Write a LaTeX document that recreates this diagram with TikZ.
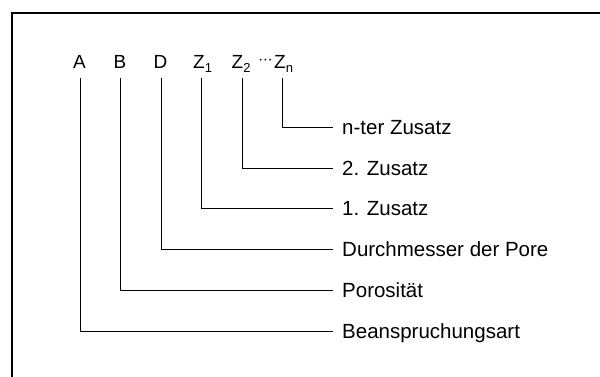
\documentclass[tikz,border=0pt]{standalone}
\usepackage{fontspec}
\setmainfont{Liberation Sans}
\begin{document}
\begin{tikzpicture}[x=1pt,y=-1pt,
  letter/.style={anchor=base,inner sep=0pt,font=\fontsize{19}{22}\selectfont},
  lbl/.style={anchor=west,inner xsep=9pt,inner ysep=0pt,text height=14.5pt,text depth=0pt,font=\fontsize{20.5}{24}\selectfont},
  conn/.style={line width=1pt},
  frame/.style={line width=1.5pt}]
\useasboundingbox (0,0) rectangle (600,376);
\draw[frame] (12,385) -- (12,13) -- (610,13);
% letters
\node[letter] (A) at (79.5,68) {A};
\node[letter] (B) at (120,68) {B};
\node[letter] (D) at (160.5,68) {D};
\node[letter] (Z1) at (199,68) {Z\rlap{\raisebox{-4.5pt}{\fontsize{13}{13}\selectfont 1}}};
\node[letter] (Z2) at (237.5,68) {Z\rlap{\raisebox{-4.5pt}{\fontsize{13}{13}\selectfont 2}}};
\node[letter] (dots) at (265.5,64.5) {${\cdot}{\cdot}{\cdot}$};
\node[letter] (Zn) at (280,68) {Z\rlap{\raisebox{-4.5pt}{\fontsize{13}{13}\selectfont n}}};
% labels
\node[lbl] (lZn) at (333,127) {n-ter Zusatz};
\node[lbl] (lZ2) at (333,168) {2. Zusatz};
\node[lbl] (lZ1) at (333,208.5) {1. Zusatz};
\node[lbl] (lD) at (333,249) {Durchmesser der Pore};
\node[lbl] (lB) at (333,290) {Porosität};
\node[lbl] (lA) at (333,331) {Beanspruchungsart};
% line tops
\coordinate (top) at (0,78);
\coordinate (xA) at ([xshift=0.5pt]A.base);
\coordinate (xB) at (B.base);
\coordinate (xD) at ([xshift=0.5pt]D.base);
\coordinate (xZ1) at ([xshift=2.5pt]Z1.base);
\coordinate (xZ2) at ([xshift=4.5pt]Z2.base);
\coordinate (xZn) at ([xshift=2pt]Zn.base);
\draw[conn] (xA |- top) |- (lA.west);
\draw[conn] (xB |- top) |- (lB.west);
\draw[conn] (xD |- top) |- (lD.west);
\draw[conn] (xZ1 |- top) |- (lZ1.west);
\draw[conn] (xZ2 |- top) |- (lZ2.west);
\draw[conn] (xZn |- top) |- (lZn.west);
\end{tikzpicture}
\end{document}
